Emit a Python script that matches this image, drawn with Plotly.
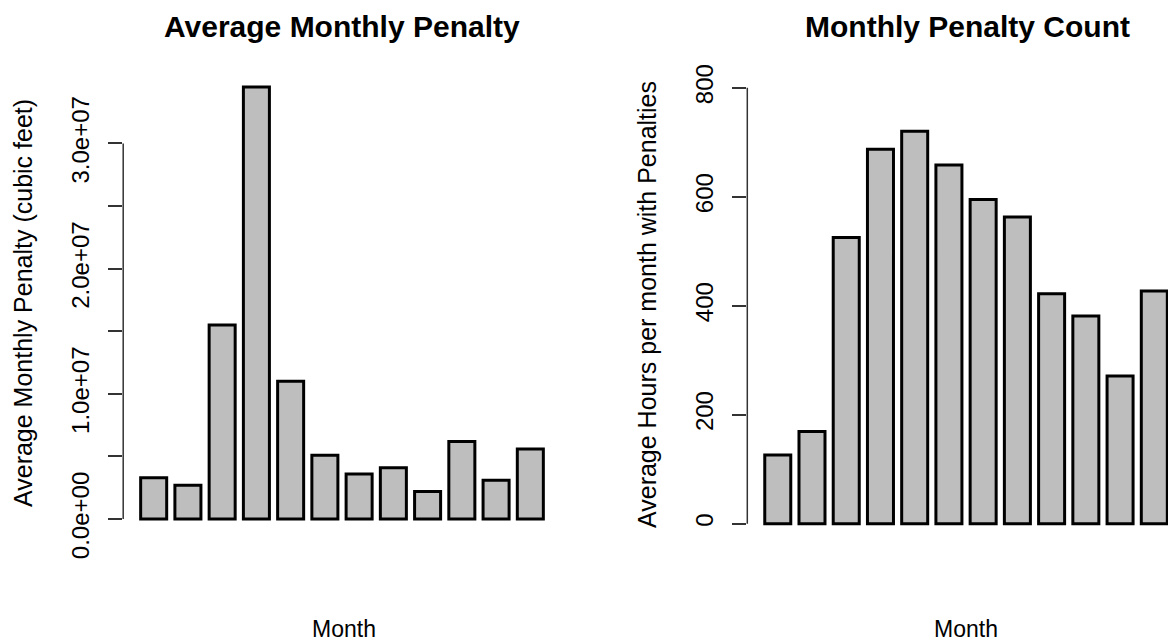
import plotly.graph_objects as go

# ---- data -------------------------------------------------------------
months = ["Jan", "Feb", "Mar", "Apr", "May", "Jun",
          "Jul", "Aug", "Sep", "Oct", "Nov", "Dec"]

avg_penalty = [3.3e6, 2.7e6, 1.55e7, 3.45e7, 1.10e7, 5.1e6,
               3.6e6, 4.1e6, 2.2e6, 6.2e6, 3.1e6, 5.6e6]

avg_hours = [126, 169, 525, 687, 720, 658, 595, 563, 422, 381, 271, 427]

penalty_ticks = [0, 5e6, 1e7, 1.5e7, 2e7, 2.5e7, 3e7]
penalty_ticktext = ["0.0e+00", "", "1.0e+07", "", "2.0e+07", "", "3.0e+07"]

hours_ticks = [0, 200, 400, 600, 800]
hours_ticktext = ["0", "200", "400", "600", "800"]

# ---- page geometry ---------------------------------------------------
W, H = 1168, 643
FONT = "Liberation Sans, Arial, sans-serif"
BAR_FILL = "#bebebe"
AXIS_COL = "#333333"


def px_x(p):
    return p / W


def px_y(p):
    return 1 - p / H


fig = go.Figure()

fig.add_trace(go.Bar(
    x=months, y=avg_penalty, xaxis="x", yaxis="y",
    marker=dict(color=BAR_FILL, line=dict(color="black", width=3)),
    showlegend=False, hoverinfo="x+y",
))
fig.add_trace(go.Bar(
    x=months, y=avg_hours, xaxis="x2", yaxis="y2",
    marker=dict(color=BAR_FILL, line=dict(color="black", width=3)),
    showlegend=False, hoverinfo="x+y",
))

hidden_x = dict(showticklabels=False, ticks="", showline=False,
                showgrid=False, zeroline=False, type="category",
                automargin=False)

y_common = dict(
    ticks="outside", ticklen=14, tickwidth=1.5, tickcolor=AXIS_COL,
    tickangle=-90, showline=False, showgrid=False, zeroline=False,
    tickfont=dict(family=FONT, size=24, color="black"),
    ticklabelstandoff=10, automargin=False,
)

# 4% padding around the value range, like base R graphics
pen_top = max(avg_penalty)
fig.update_layout(
    width=W, height=H,
    margin=dict(l=0, r=0, t=0, b=0, autoexpand=False),
    paper_bgcolor="white", plot_bgcolor="white",
    bargap=0.24,
    xaxis=dict(hidden_x, domain=[px_x(123.2), px_x(560.8)],
               range=[-0.89, 11.89]),
    xaxis2=dict(hidden_x, domain=[px_x(747.3), 1.0],
                range=[-0.89, 11.40]),
    yaxis=dict(y_common, anchor="x",
               domain=[px_y(536.3), px_y(69.8)],
               range=[-0.04 * pen_top, 1.04 * pen_top],
               tickvals=penalty_ticks, ticktext=penalty_ticktext),
    yaxis2=dict(y_common, anchor="x2",
                domain=[px_y(541.1), px_y(70.3)],
                range=[-0.04 * max(hours_ticks), 1.04 * max(hours_ticks)],
                tickvals=hours_ticks, ticktext=hours_ticktext),
)

# axis spines run only between the first and last tick
for xr, yr, ticks in (("x domain", "y", penalty_ticks),
                      ("x2 domain", "y2", hours_ticks)):
    fig.add_shape(type="line", xref=xr, yref=yr,
                  x0=0, x1=0, y0=min(ticks), y1=max(ticks),
                  line=dict(color=AXIS_COL, width=1.5))

# titles and axis labels
titles = [
    ("Average Monthly Penalty", 342.0),
    ("Monthly Penalty Count", 967.0),
]
for text, cx in titles:
    fig.add_annotation(text=f"<b>{text}</b>", xref="paper", yref="paper",
                       x=px_x(cx), y=px_y(27), showarrow=False,
                       xanchor="center", yanchor="middle",
                       font=dict(family=FONT, size=30, color="black"))

for cx in (344.0, 966.0):
    fig.add_annotation(text="Month", xref="paper", yref="paper",
                       x=px_x(cx), y=0, showarrow=False,
                       xanchor="center", yanchor="bottom", borderpad=0,
                       font=dict(family=FONT, size=23, color="black"))

y_labels = [
    ("Average Monthly Penalty (cubic feet)", 23.0, 303.0),
    ("Average Hours per month with Penalties", 647.0, 305.0),
]
for text, cx, cy in y_labels:
    fig.add_annotation(text=text, xref="paper", yref="paper",
                       x=px_x(cx), y=px_y(cy), showarrow=False,
                       textangle=-90, xanchor="center", yanchor="middle",
                       font=dict(family=FONT, size=25, color="black"))

fig.write_html("out.html")
